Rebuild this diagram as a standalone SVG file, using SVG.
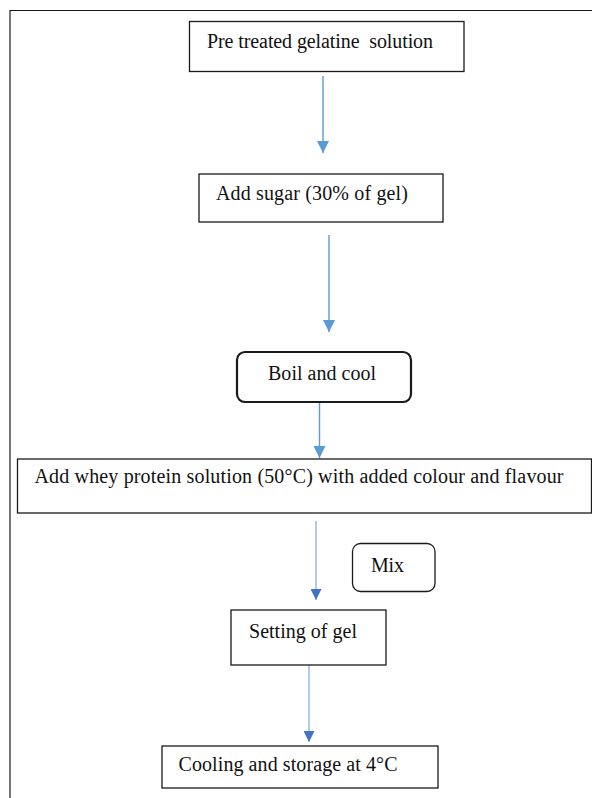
<svg xmlns="http://www.w3.org/2000/svg" width="592" height="798" viewBox="0 0 592 798">
  <style>
    .box { fill: #ffffff; stroke: #1a1a1a; stroke-width: 1.3; }
    .bold { stroke-width: 2.2; }
    .lbl { font-family: "Liberation Serif", "Times New Roman", serif; font-size: 20px; fill: #111111; }
    .frame { fill: none; stroke: #1a1a1a; stroke-width: 1.2; }
    .flow { fill: none; stroke: #5b9bd5; stroke-width: 1.4; }
    .flow-pale { fill: none; stroke: #a9c4ee; stroke-width: 1.8; }
  </style>
  <defs>
    <marker id="head" viewBox="0 0 12 12" refX="12" refY="6" markerWidth="12" markerHeight="12" markerUnits="userSpaceOnUse" orient="auto">
      <path d="M0,0 L12,6 L0,12 z" fill="#5b9bd5"/>
    </marker>
    <marker id="head-dark" viewBox="0 0 12 12" refX="12" refY="6" markerWidth="11" markerHeight="11" markerUnits="userSpaceOnUse" orient="auto">
      <path d="M0,0 L12,6 L0,12 z" fill="#4472c4"/>
    </marker>
  </defs>

  <!-- page frame -->
  <path class="frame" d="M10,798 V10.5 H592"/>

  <!-- connectors -->
  <g id="connectors">
    <line class="flow" x1="323" y1="76" x2="323" y2="153" marker-end="url(#head)"/>
    <line class="flow" x1="329" y1="235" x2="329" y2="332" marker-end="url(#head)"/>
    <line class="flow" x1="319.5" y1="402" x2="319.5" y2="458" marker-end="url(#head)"/>
    <line class="flow-pale" x1="316" y1="521" x2="316" y2="600" marker-end="url(#head-dark)"/>
    <line class="flow-pale" x1="309" y1="665" x2="309" y2="742" marker-end="url(#head-dark)"/>
  </g>

  <g id="pretreated">
    <rect class="box" x="189.5" y="21.5" width="274.5" height="50"/>
    <text class="lbl" x="207" y="48" textLength="226" lengthAdjust="spacing" xml:space="preserve">Pre treated gelatine  solution</text>
  </g>

  <g id="sugar">
    <rect class="box" x="199" y="174" width="244" height="48"/>
    <text class="lbl" x="216" y="200" textLength="192" lengthAdjust="spacing">Add sugar (30% of gel)</text>
  </g>

  <g id="boil">
    <rect class="box bold" x="237" y="352" width="174" height="50" rx="8" ry="8"/>
    <text class="lbl" x="268" y="380" textLength="108" lengthAdjust="spacing">Boil and cool</text>
  </g>

  <g id="whey">
    <rect class="box" x="17.5" y="459" width="574" height="54"/>
    <text class="lbl" x="34.5" y="483" textLength="529" lengthAdjust="spacing">Add whey protein solution (50°C) with added colour and flavour</text>
  </g>

  <g id="mix">
    <rect class="box" x="352.5" y="543.5" width="82.5" height="48" rx="8" ry="8"/>
    <text class="lbl" x="371" y="572" textLength="33" lengthAdjust="spacing">Mix</text>
  </g>

  <g id="setting">
    <rect class="box" x="231" y="610" width="155" height="55"/>
    <text class="lbl" x="249" y="638" textLength="108" lengthAdjust="spacing">Setting of gel</text>
  </g>

  <g id="cooling">
    <rect class="box" x="162" y="746" width="276" height="42"/>
    <text class="lbl" x="178.5" y="771" textLength="219" lengthAdjust="spacing">Cooling and storage at 4°C</text>
  </g>
</svg>
